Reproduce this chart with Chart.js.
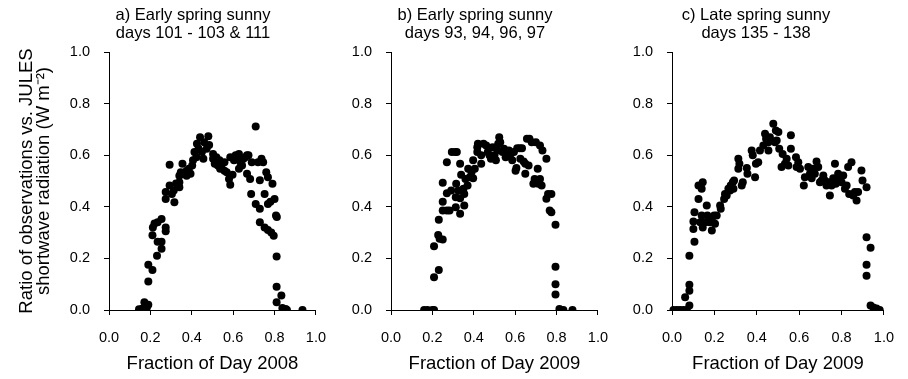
<!DOCTYPE html>
<html>
<head>
<meta charset="utf-8">
<script src="https://cdn.jsdelivr.net/npm/chart.js@4"></script>
<style>
  body { margin: 0; background: #fff; }
  .panel { position: absolute; top: 0; }
</style>
</head>
<body>
<canvas id="chartA" class="panel" width="340" height="379" style="left:0px"></canvas>
<canvas id="chartB" class="panel" width="282" height="379" style="left:340px"></canvas>
<canvas id="chartC" class="panel" width="286" height="379" style="left:622px"></canvas>
<script>
// a) days 101-103 & 111 (2008)
const fracA = [0.145, 0.16, 0.171, 0.19, 0.183, 0.19, 0.19, 0.21, 0.212, 0.21, 0.22, 0.235, 0.254, 0.235, 0.254, 0.254, 0.232, 0.274, 0.274, 0.274, 0.274, 0.293, 0.293, 0.316, 0.313, 0.304, 0.324, 0.34, 0.34, 0.34, 0.347, 0.355, 0.363, 0.375, 0.375, 0.386, 0.394, 0.402, 0.406, 0.413, 0.422, 0.425, 0.433, 0.44, 0.449, 0.456, 0.46, 0.472, 0.48, 0.484, 0.503, 0.503, 0.511, 0.519, 0.526, 0.534, 0.537, 0.547, 0.558, 0.558, 0.569, 0.58, 0.586, 0.586, 0.597, 0.604, 0.612, 0.62, 0.628, 0.628, 0.635, 0.643, 0.65, 0.659, 0.667, 0.667, 0.674, 0.682, 0.687, 0.69, 0.709, 0.709, 0.72, 0.729, 0.729, 0.729, 0.737, 0.745, 0.752, 0.752, 0.76, 0.768, 0.768, 0.768, 0.78, 0.784, 0.79, 0.796, 0.8, 0.807, 0.811, 0.81, 0.81, 0.81, 0.833, 0.838, 0.854, 0.845, 0.86, 0.935];
const ratioA = [0.003, 0.005, 0.03, 0.02, 0.01, 0.11, 0.175, 0.155, 0.32, 0.29, 0.335, 0.34, 0.353, 0.265, 0.265, 0.237, 0.21, 0.32, 0.305, 0.43, 0.457, 0.483, 0.563, 0.418, 0.463, 0.45, 0.49, 0.495, 0.476, 0.52, 0.534, 0.567, 0.528, 0.54, 0.52, 0.547, 0.528, 0.56, 0.58, 0.612, 0.592, 0.644, 0.625, 0.67, 0.612, 0.586, 0.65, 0.625, 0.673, 0.64, 0.605, 0.586, 0.567, 0.592, 0.56, 0.58, 0.547, 0.567, 0.573, 0.54, 0.534, 0.508, 0.485, 0.592, 0.524, 0.58, 0.6, 0.592, 0.605, 0.547, 0.573, 0.56, 0.586, 0.592, 0.528, 0.6, 0.6, 0.508, 0.45, 0.573, 0.711, 0.411, 0.573, 0.392, 0.503, 0.34, 0.586, 0.573, 0.45, 0.32, 0.534, 0.411, 0.515, 0.31, 0.42, 0.3, 0.489, 0.288, 0.43, 0.366, 0.36, 0.207, 0.09, 0.03, 0.056, 0.008, 0.004, 0.0, 0.0, 0.0];

// b) days 93, 94, 96, 97 (2009)
const fracB = [0.16, 0.176, 0.2, 0.208, 0.208, 0.231, 0.208, 0.228, 0.235, 0.25, 0.231, 0.25, 0.25, 0.25, 0.27, 0.27, 0.27, 0.283, 0.291, 0.294, 0.31, 0.313, 0.313, 0.315, 0.318, 0.326, 0.334, 0.334, 0.334, 0.339, 0.35, 0.354, 0.354, 0.36, 0.37, 0.373, 0.381, 0.389, 0.397, 0.397, 0.405, 0.417, 0.417, 0.42, 0.436, 0.436, 0.447, 0.46, 0.468, 0.476, 0.483, 0.491, 0.5, 0.507, 0.515, 0.518, 0.523, 0.528, 0.539, 0.546, 0.554, 0.562, 0.57, 0.578, 0.586, 0.594, 0.602, 0.606, 0.61, 0.622, 0.625, 0.633, 0.641, 0.649, 0.649, 0.657, 0.665, 0.669, 0.68, 0.688, 0.694, 0.7, 0.709, 0.712, 0.72, 0.72, 0.728, 0.732, 0.751, 0.751, 0.759, 0.775, 0.767, 0.775, 0.795, 0.795, 0.795, 0.795, 0.814, 0.833, 0.877];
const ratioB = [0.0, 0.0, 0.0, 0.0, 0.127, 0.155, 0.247, 0.291, 0.276, 0.273, 0.35, 0.386, 0.42, 0.493, 0.386, 0.453, 0.573, 0.386, 0.463, 0.612, 0.612, 0.398, 0.437, 0.489, 0.612, 0.463, 0.373, 0.433, 0.567, 0.524, 0.47, 0.405, 0.45, 0.508, 0.483, 0.547, 0.515, 0.534, 0.511, 0.58, 0.547, 0.612, 0.631, 0.644, 0.567, 0.6, 0.644, 0.638, 0.612, 0.6, 0.586, 0.631, 0.6, 0.58, 0.618, 0.644, 0.67, 0.65, 0.612, 0.625, 0.592, 0.612, 0.618, 0.605, 0.58, 0.612, 0.54, 0.55, 0.627, 0.627, 0.586, 0.627, 0.576, 0.528, 0.567, 0.664, 0.56, 0.664, 0.65, 0.489, 0.508, 0.65, 0.547, 0.489, 0.508, 0.638, 0.483, 0.618, 0.586, 0.431, 0.45, 0.45, 0.386, 0.379, 0.33, 0.168, 0.1, 0.06, 0.004, 0.0, 0.0];

// c) days 135-138 (2009)
const fracC = [0.007, 0.023, 0.038, 0.054, 0.07, 0.082, 0.062, 0.082, 0.082, 0.082, 0.106, 0.101, 0.101, 0.106, 0.125, 0.125, 0.133, 0.14, 0.14, 0.145, 0.145, 0.156, 0.164, 0.167, 0.177, 0.188, 0.188, 0.199, 0.203, 0.211, 0.227, 0.23, 0.246, 0.25, 0.258, 0.266, 0.274, 0.277, 0.287, 0.29, 0.293, 0.313, 0.313, 0.318, 0.329, 0.334, 0.353, 0.356, 0.376, 0.381, 0.392, 0.396, 0.407, 0.415, 0.431, 0.439, 0.444, 0.455, 0.455, 0.462, 0.478, 0.486, 0.49, 0.494, 0.502, 0.506, 0.517, 0.522, 0.533, 0.541, 0.549, 0.561, 0.561, 0.585, 0.588, 0.596, 0.604, 0.622, 0.627, 0.643, 0.651, 0.659, 0.666, 0.674, 0.682, 0.69, 0.698, 0.706, 0.714, 0.721, 0.729, 0.737, 0.745, 0.753, 0.761, 0.769, 0.773, 0.784, 0.792, 0.8, 0.808, 0.816, 0.824, 0.831, 0.836, 0.847, 0.855, 0.863, 0.871, 0.878, 0.894, 0.899, 0.918, 0.918, 0.918, 0.918, 0.937, 0.937, 0.95, 0.965, 0.98];
const ratioC = [0.0, 0.0, 0.0, 0.0, 0.0, 0.017, 0.049, 0.075, 0.098, 0.21, 0.265, 0.314, 0.343, 0.379, 0.43, 0.483, 0.34, 0.366, 0.47, 0.495, 0.32, 0.34, 0.405, 0.366, 0.34, 0.308, 0.353, 0.366, 0.334, 0.366, 0.405, 0.392, 0.43, 0.45, 0.444, 0.47, 0.463, 0.483, 0.495, 0.47, 0.502, 0.586, 0.547, 0.567, 0.483, 0.495, 0.55, 0.528, 0.618, 0.6, 0.515, 0.567, 0.573, 0.618, 0.638, 0.683, 0.664, 0.65, 0.618, 0.67, 0.722, 0.65, 0.696, 0.657, 0.69, 0.625, 0.554, 0.605, 0.567, 0.586, 0.56, 0.677, 0.625, 0.592, 0.554, 0.573, 0.547, 0.483, 0.515, 0.554, 0.528, 0.511, 0.547, 0.528, 0.576, 0.554, 0.495, 0.502, 0.521, 0.502, 0.483, 0.495, 0.444, 0.483, 0.511, 0.567, 0.489, 0.528, 0.511, 0.495, 0.521, 0.47, 0.483, 0.554, 0.45, 0.573, 0.444, 0.457, 0.424, 0.457, 0.541, 0.502, 0.476, 0.282, 0.175, 0.133, 0.241, 0.017, 0.01, 0.006, 0.0];

const titleA = ["a) Early spring sunny", "days 101 - 103 & 111"];
const titleB = ["b) Early spring sunny", "days 93, 94, 96, 97"];
const titleC = ["c) Late spring sunny", "days 135 - 138"];
const xTitleA = "Fraction of Day 2008";
const xTitleB = "Fraction of Day 2009";
const xTitleC = "Fraction of Day 2009";
const yTitle = ["Ratio of observations vs. JULES", "shortwave radiation (W m\u207B\u00B2)"];

const FONT = "'Liberation Sans', Arial, sans-serif";
Chart.defaults.font.family = FONT;
Chart.defaults.color = "#000";

// two-line heading over each panel, offset from the plot's left edge
const panelTitle = {
  id: "panelTitle",
  afterDraw(chart, args, opts) {
    const ctx = chart.ctx;
    ctx.save();
    ctx.font = "16.5px " + FONT;
    ctx.fillStyle = "#000";
    ctx.textAlign = "center";
    ctx.textBaseline = "middle";
    opts.lines.forEach(function (line, i) {
      ctx.fillText(line, chart.chartArea.left + 84, 15 + i * 18.5);
    });
    ctx.restore();
  },
};

function toPoints(xs, ys) {
  return xs.map((x, i) => ({ x: x, y: ys[i] }));
}

function axisBase() {
  return {
    type: "linear",
    min: 0,
    max: 1,
    grid: {
      drawOnChartArea: false,
      drawTicks: true,
      tickLength: 5,
      color: "#000",
    },
    border: { color: "#000", width: 1 },
    ticks: {
      stepSize: 0.2,
      font: { size: 14.5 },
      callback: (v) => v.toFixed(1),
    },
  };
}

function ScatterPanel(id, xs, ys, lines, xTitle, yWidth, padRight, showYTitle) {
  const x = axisBase();
  x.ticks.padding = 14;
  x.ticks.maxRotation = 0;
  x.title = {
    display: true,
    text: xTitle,
    font: { size: 18.5 },
    padding: { top: 0, bottom: 4 },
  };
  x.afterFit = function (scale) {
    scale.height = 69;
  };

  const y = axisBase();
  y.ticks.padding = 14;
  y.title = {
    display: showYTitle,
    text: yTitle,
    font: { size: 18.5, lineHeight: 0.95 },
    padding: { top: 18, bottom: 0 },
  };
  y.afterFit = function (scale) {
    scale.width = yWidth;
  };

  return new Chart(document.getElementById(id), {
    type: "scatter",
    data: {
      datasets: [
        {
          data: toPoints(xs, ys),
          backgroundColor: "#000",
          borderWidth: 0,
          pointRadius: 4,
          pointHoverRadius: 4,
          clip: { left: 6, right: 6, top: 6, bottom: 0 },
        },
      ],
    },
    options: {
      responsive: false,
      animation: false,
      layout: { padding: { top: 52, left: 0, right: padRight, bottom: 0 } },
      plugins: {
        legend: { display: false },
        tooltip: { enabled: false },
        panelTitle: { lines: lines },
      },
      scales: { x: x, y: y },
    },
    plugins: [panelTitle],
  });
}

ScatterPanel("chartA", fracA, ratioA, titleA, xTitleA, 109, 18, true);
ScatterPanel("chartB", fracB, ratioB, titleB, xTitleB, 51, 17, false);
ScatterPanel("chartC", fracC, ratioC, titleC, xTitleC, 50, 23, false);
</script>
</body>
</html>
